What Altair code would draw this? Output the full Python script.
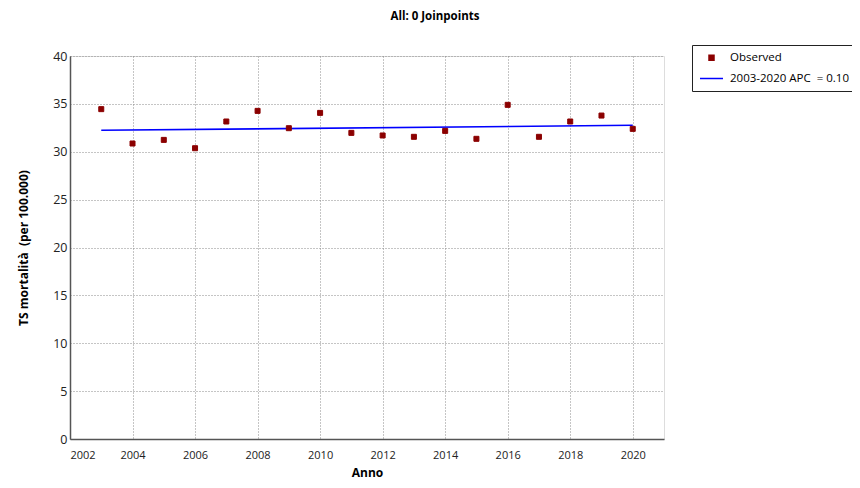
import altair as alt
import pandas as pd

years = list(range(2003, 2021))
observed = [34.45, 30.86, 31.24, 30.37, 33.16, 34.27, 32.46, 34.06, 31.97,
            31.70, 31.56, 32.18, 31.35, 34.90, 31.56, 33.16, 33.78, 32.39]
fit_years = [2003, 2020]
fit_values = [32.24, 32.76]
series_names = ["Observed", "2003-2020 APC\u00a0 = 0.10"]
series_colors = ["#8b0000", "#0000ff"]
series_shapes = ["square", "stroke"]
series_sizes = [25, 529]
x_ticks = list(range(2002, 2021, 2))
y_ticks = list(range(0, 41, 5))

FONT = "Open Sans"

obs_df = pd.DataFrame({"year": years, "value": observed, "series": series_names[0]})
fit_df = pd.DataFrame({"year": fit_years, "value": fit_values, "series": series_names[1]})

x_enc = alt.X(
    "year:Q",
    scale=alt.Scale(domain=[2002, 2021], nice=False, zero=False),
    axis=alt.Axis(
        values=x_ticks, format="d", title="Anno", ticks=False, labelPadding=10,
        labelFontSize=11, labelFont=FONT, labelColor="#222",
        titleFont=FONT, titleFontSize=12, titleFontWeight="bold", titleColor="black",
        titlePadding=7, domainColor="#555", domainWidth=1.5,
        grid=True, gridColor="#8a8a8a", gridDash=[1, 2], gridWidth=1,
    ),
)
y_enc = alt.Y(
    "value:Q",
    scale=alt.Scale(domain=[0, 40], nice=False),
    axis=alt.Axis(
        values=y_ticks, title="TS mortalità\u00a0 (per 100.000)", ticks=False, labelPadding=3,
        labelFontSize=12.5, labelFont=FONT, labelColor="#222",
        titleFont=FONT, titleFontSize=12, titleFontWeight="bold", titleColor="black",
        titlePadding=22, domainColor="#555", domainWidth=1.5,
        grid=True, gridColor="#8a8a8a", gridDash=[1, 2], gridWidth=1,
    ),
)
legend = alt.Legend(
    title=None, orient="none", legendX=622, legendY=-11,
    strokeColor="#222", fillColor="white", padding=7,
    labelFont=FONT, labelFontSize=11.5, labelColor="black",
    labelOffset=6, symbolStrokeWidth=1.5, symbolOpacity=1,
    labelExpr="datum.label + '\u00a0\u00a0'",
)
color_scale = alt.Scale(domain=series_names, range=series_colors)

line = alt.Chart(fit_df).mark_line(strokeWidth=1.6).encode(
    x=x_enc, y=y_enc,
    color=alt.Color("series:N", scale=color_scale, legend=legend),
)
points = alt.Chart(obs_df).mark_point(filled=True, opacity=1, strokeWidth=1).encode(
    x=x_enc, y=y_enc,
    color=alt.Color("series:N", scale=color_scale, legend=legend),
    stroke=alt.Stroke("series:N", scale=color_scale, legend=legend),
    shape=alt.Shape("series:N", scale=alt.Scale(domain=series_names, range=series_shapes), legend=legend),
    size=alt.Size("series:N", scale=alt.Scale(domain=series_names, range=series_sizes), legend=legend),
)

chart = (
    alt.layer(line, points)
    .properties(
        width=594,
        height=383,
        autosize=alt.AutoSizeParams(type="none"),
        padding={"left": 62, "top": 48, "right": 188, "bottom": 41},
        title=alt.TitleParams(
            "All: 0 Joinpoints", font=FONT, fontSize=11.5, fontWeight="bold",
            color="black", anchor="middle", frame="group", dx=68, offset=13,
            baseline="alphabetic",
        ),
    )
    .configure_view(stroke="#444", strokeWidth=1)
    .configure_legend(rowPadding=2)
    .configure(background="white")
)

chart.save("out.html", embed_options={"renderer": "svg", "actions": False})
